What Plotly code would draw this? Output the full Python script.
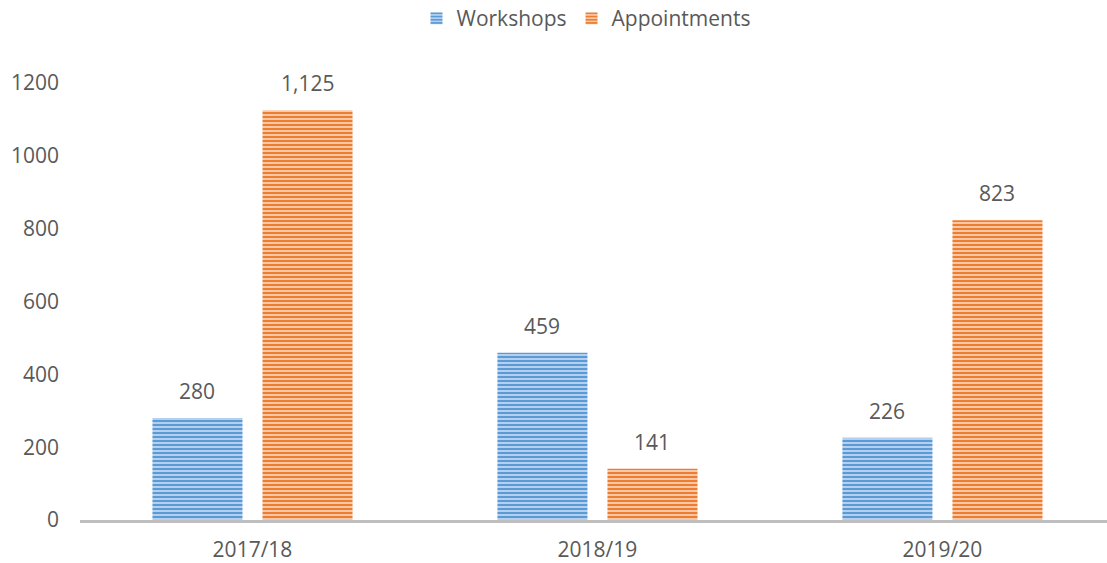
import plotly.graph_objects as go

categories = ["2017/18", "2018/19", "2019/20"]
workshops = [280, 459, 226]
appointments = [1125, 141, 823]
y_ticks = [0, 200, 400, 600, 800, 1000, 1200]

FONT = "Open Sans"
TXT = "#595959"
FS = 21
BAR_W = 0.261

fig = go.Figure()
fig.add_trace(go.Bar(
    name="Workshops", x=categories, y=workshops,
    width=BAR_W, offset=-0.29,
    marker=dict(color="#A8C8EB", line=dict(width=0),
                pattern=dict(shape="-", size=4, solidity=0.5,
                             fgcolor="#5B9BD5", bgcolor="#B5D0EE", fillmode="replace")),
))
fig.add_trace(go.Bar(
    name="Appointments", x=categories, y=appointments,
    width=BAR_W, offset=0.029,
    marker=dict(color="#F4B183", line=dict(width=0),
                pattern=dict(shape="-", size=4, solidity=0.5,
                             fgcolor="#ED7D31", bgcolor="#F8C7A6", fillmode="replace")),
))

annotations = []
for vals, shift in ((workshops, -55), (appointments, 55)):
    for c, v in zip(categories, vals):
        annotations.append(dict(
            x=c, y=v, xref="x", yref="y", text=f"{v:,}", showarrow=False,
            xshift=shift, yshift=11, yanchor="bottom", xanchor="center",
            font=dict(size=FS, color=TXT, family=FONT),
        ))

fig.update_layout(
    width=1107, height=563,
    margin=dict(l=80, r=0, t=83, b=43, autoexpand=False),
    paper_bgcolor="white", plot_bgcolor="white",
    font=dict(family=FONT, color=TXT, size=FS),
    barmode="group",
    showlegend=True,
    annotations=annotations,
    legend=dict(orientation="h", x=(586 - 80) / 1027, xref="paper", xanchor="center",
                y=(520 + 2) / 437, yanchor="top", yref="paper",
                font=dict(size=FS, color=TXT, family=FONT),
                traceorder="normal"),
    xaxis=dict(range=[-0.5, 2.477], showgrid=False, showline=True, automargin=False,
               linecolor="#BFBFBF", linewidth=3, ticks="", ticklabelstandoff=9,
               tickfont=dict(size=FS, color=TXT, family=FONT)),
    yaxis=dict(range=[0, 1200], tickvals=y_ticks, showgrid=False, zeroline=False,
               showline=False, ticks="", ticklabelstandoff=20, automargin=False,
               tickfont=dict(size=FS, color=TXT, family=FONT)),
)

fig.write_html("out.html")
